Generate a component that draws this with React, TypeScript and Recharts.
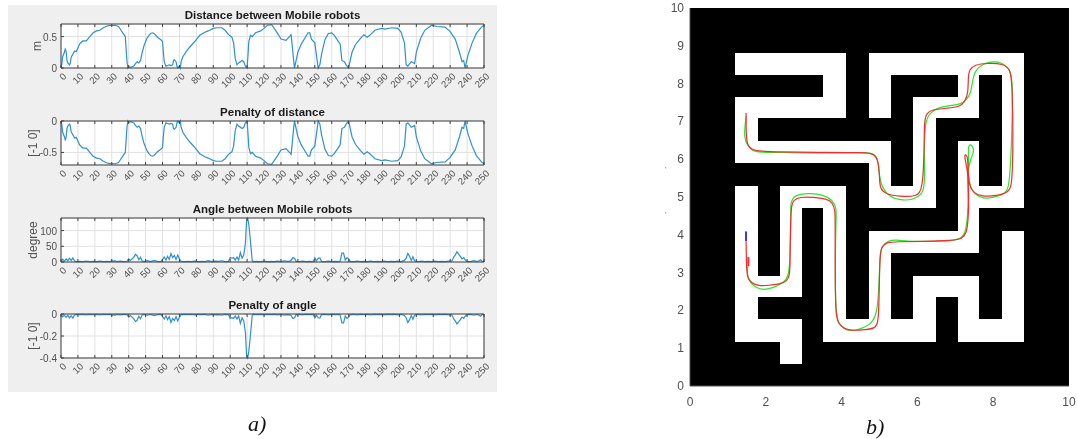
import { CartesianGrid, Label, Line, LineChart, ReferenceArea, XAxis, YAxis } from "recharts";

type Pt = [number, number];

const timeTicks = [0, 10, 20, 30, 40, 50, 60, 70, 80, 90, 100, 110, 120, 130, 140, 150, 160, 170, 180, 190, 200, 210, 220, 230, 240, 250];

const distance: Pt[] = [
  [0, 0], [0.5, 0.06], [1, 0.18], [2, 0.25], [2.5, 0.3], [3, 0.27], [3.5, 0.12], [4, 0.08], [5, 0.05], [5.5, 0.08], [6, 0.17], [7, 0.22], [8, 0.27], [9, 0.26], [10, 0.32], [11, 0.38], [12, 0.41], [13, 0.43], [15, 0.43], [17, 0.5], [19, 0.56], [21, 0.59], [23, 0.6], [25, 0.64], [28, 0.675], [32, 0.68], [34, 0.66], [35, 0.62], [36, 0.58], [37, 0.54], [38, 0.5], [38.5, 0.3], [39, 0.1], [39.5, 0], [40, 0.02], [41, 0.01], [42, 0.02], [43, 0.03], [44, 0.07], [45, 0.1], [46, 0.08], [47, 0.12], [48, 0.25], [49, 0.35], [50, 0.42], [51, 0.48], [52, 0.52], [53, 0.55], [54, 0.56], [55, 0.55], [56, 0.52], [57, 0.49], [58, 0.47], [59, 0.45], [60, 0.42], [60.5, 0.25], [61, 0.1], [62, 0.03], [63, 0.04], [64, 0.05], [65, 0.04], [66, 0.05], [66.5, 0.12], [67, 0.13], [68, 0.1], [68.5, 0.03], [69, 0], [70, 0.03], [70.5, 0], [71, 0.1], [72, 0.18], [74, 0.26], [76, 0.33], [78, 0.39], [80, 0.45], [82, 0.52], [85, 0.57], [87, 0.59], [90, 0.63], [92, 0.64], [95, 0.64], [97, 0.6], [99, 0.53], [101, 0.49], [102, 0.4], [103, 0.15], [104, 0.05], [105, 0.08], [106, 0.1], [107, 0.12], [108, 0.1], [109, 0.03], [110, 0], [110.5, 0.2], [111, 0.42], [112, 0.52], [113, 0.5], [115, 0.56], [118, 0.59], [120, 0.63], [122, 0.68], [124.5, 0.69], [126, 0.63], [128, 0.55], [130, 0.46], [133, 0.44], [135, 0.5], [136, 0.53], [136.5, 0.4], [137.5, 0.12], [138, 0], [140, 0.25], [142, 0.38], [144, 0.47], [146, 0.56], [147, 0.56], [148, 0.46], [150, 0.4], [151, 0.2], [152, 0], [153, 0.05], [154, 0.22], [156, 0.45], [158, 0.55], [160, 0.56], [161.5, 0.52], [163, 0.46], [165, 0.38], [166, 0.12], [167.5, 0.1], [168.5, 0.05], [170, 0], [172, 0.25], [174, 0.37], [177, 0.47], [179, 0.53], [181, 0.49], [182.5, 0.52], [185.5, 0.6], [189.5, 0.63], [191.5, 0.62], [195.5, 0.64], [199, 0.63], [201, 0.57], [203, 0.4], [204, 0.05], [205, 0.03], [207, 0.1], [209, 0.07], [210, 0.25], [212.5, 0.47], [215, 0.6], [219, 0.68], [222, 0.66], [227, 0.65], [230, 0.58], [233, 0.46], [235.5, 0.25], [237, 0.1], [238, 0.12], [238.8, 0], [240.5, 0.2], [243, 0.4], [245.5, 0.55], [248.5, 0.65], [250, 0.68],
];

const distancePenalty: Pt[] = [
  [0, 0], [0.5, -0.06], [1, -0.18], [2, -0.25], [2.5, -0.3], [3, -0.27], [3.5, -0.12], [4, -0.08], [5, -0.05], [5.5, -0.08], [6, -0.17], [7, -0.22], [8, -0.27], [9, -0.26], [10, -0.32], [11, -0.38], [12, -0.41], [13, -0.43], [15, -0.43], [17, -0.5], [19, -0.56], [21, -0.59], [23, -0.6], [25, -0.64], [28, -0.675], [32, -0.68], [34, -0.66], [35, -0.62], [36, -0.58], [37, -0.54], [38, -0.5], [38.5, -0.3], [39, -0.1], [39.5, 0], [40, -0.02], [41, -0.01], [42, -0.02], [43, -0.03], [44, -0.07], [45, -0.1], [46, -0.08], [47, -0.12], [48, -0.25], [49, -0.35], [50, -0.42], [51, -0.48], [52, -0.52], [53, -0.55], [54, -0.56], [55, -0.55], [56, -0.52], [57, -0.49], [58, -0.47], [59, -0.45], [60, -0.42], [60.5, -0.25], [61, -0.1], [62, -0.03], [63, -0.04], [64, -0.05], [65, -0.04], [66, -0.05], [66.5, -0.12], [67, -0.13], [68, -0.1], [68.5, -0.03], [69, 0], [70, -0.03], [70.5, 0], [71, -0.1], [72, -0.18], [74, -0.26], [76, -0.33], [78, -0.39], [80, -0.45], [82, -0.52], [85, -0.57], [87, -0.59], [90, -0.63], [92, -0.64], [95, -0.64], [97, -0.6], [99, -0.53], [101, -0.49], [102, -0.4], [103, -0.15], [104, -0.05], [105, -0.08], [106, -0.1], [107, -0.12], [108, -0.1], [109, -0.03], [110, 0], [110.5, -0.2], [111, -0.42], [112, -0.52], [113, -0.5], [115, -0.56], [118, -0.59], [120, -0.63], [122, -0.68], [124.5, -0.69], [126, -0.63], [128, -0.55], [130, -0.46], [133, -0.44], [135, -0.5], [136, -0.53], [136.5, -0.4], [137.5, -0.12], [138, 0], [140, -0.25], [142, -0.38], [144, -0.47], [146, -0.56], [147, -0.56], [148, -0.46], [150, -0.4], [151, -0.2], [152, 0], [153, -0.05], [154, -0.22], [156, -0.45], [158, -0.55], [160, -0.56], [161.5, -0.52], [163, -0.46], [165, -0.38], [166, -0.12], [167.5, -0.1], [168.5, -0.05], [170, 0], [172, -0.25], [174, -0.37], [177, -0.47], [179, -0.53], [181, -0.49], [182.5, -0.52], [185.5, -0.6], [189.5, -0.63], [191.5, -0.62], [195.5, -0.64], [199, -0.63], [201, -0.57], [203, -0.4], [204, -0.05], [205, -0.03], [207, -0.1], [209, -0.07], [210, -0.25], [212.5, -0.47], [215, -0.6], [219, -0.68], [222, -0.66], [227, -0.65], [230, -0.58], [233, -0.46], [235.5, -0.25], [237, -0.1], [238, -0.12], [238.8, 0], [240.5, -0.2], [243, -0.4], [245.5, -0.55], [248.5, -0.65], [250, -0.68],
];

const angle: Pt[] = [
  [0, 0], [1, 9], [2, 3], [3, 10], [4, 4], [5, 12], [6, 5], [7, 13], [8, 3], [9, 1], [11, 2], [13, 1], [15, 3], [17, 1], [19, 2], [21, 1], [23, 3], [25, 1], [27, 2], [29, 1], [30, 5], [31, 2], [32, 4], [33, 1], [35, 3], [37, 1], [39, 2], [40, 10], [41, 5], [42, 10], [43, 15], [44, 24], [45, 20], [46, 7], [47, 15], [48, 3], [49, 1], [51, 4], [53, 1], [55, 5], [57, 2], [59, 1], [60, 8], [61, 16], [62, 6], [63, 18], [64, 8], [65, 27], [66, 14], [67, 21], [68, 8], [69, 22], [70, 10], [71, 2], [73, 1], [75, 2], [77, 1], [79, 3], [81, 1], [83, 2], [85, 1], [87, 4], [89, 1], [91, 3], [93, 2], [95, 4], [97, 1], [99, 2], [100, 14], [101, 12], [102, 14], [103, 6], [104, 16], [105, 6], [106, 30], [107, 12], [108, 22], [109, 60], [109.7, 135], [110.3, 140], [111, 120], [112, 65], [113, 5], [113.5, 1], [116, 2], [118, 1], [120, 3], [122, 1], [124, 2], [126, 1], [128, 3], [130, 1], [132, 4], [134, 2], [135, 3], [136, 5], [137, 14], [138, 12], [139, 2], [141, 1], [143, 3], [145, 1], [147, 2], [149, 1], [150, 13], [151, 4], [152, 12], [153, 13], [154, 2], [156, 1], [158, 3], [160, 1], [162, 2], [164, 1], [165, 3], [166, 28], [167, 28], [168, 6], [169, 14], [170, 10], [171, 2], [173, 1], [175, 3], [177, 1], [179, 2], [181, 1], [183, 3], [185, 1], [187, 2], [189, 1], [191, 3], [193, 1], [195, 2], [197, 1], [199, 3], [201, 1], [203, 5], [204, 12], [205, 27], [206, 18], [207, 5], [208, 17], [209, 4], [211, 1], [213, 3], [215, 1], [217, 2], [219, 1], [221, 3], [223, 1], [225, 2], [227, 1], [229, 3], [231, 3], [232, 15], [233, 22], [234, 33], [235, 25], [236, 18], [237, 10], [238, 14], [239, 6], [240, 2], [242, 1], [244, 4], [246, 1], [248, 7], [249, 1], [250, 2],
];

const anglePenalty: Pt[] = [
  [0, 0], [1, -0.026], [2, -0.01], [3, -0.03], [4, -0.012], [5, -0.035], [6, -0.015], [7, -0.037], [8, -0.008], [9, -0.003], [11, -0.006], [13, -0.003], [15, -0.008], [17, -0.003], [19, -0.006], [21, -0.003], [23, -0.008], [25, -0.003], [27, -0.006], [29, -0.003], [30, -0.014], [31, -0.006], [32, -0.012], [33, -0.003], [35, -0.008], [37, -0.003], [39, -0.006], [40, -0.028], [41, -0.014], [42, -0.028], [43, -0.043], [44, -0.068], [45, -0.057], [46, -0.02], [47, -0.043], [48, -0.008], [49, -0.003], [51, -0.011], [53, -0.003], [55, -0.014], [57, -0.006], [59, -0.003], [60, -0.023], [61, -0.046], [62, -0.017], [63, -0.051], [64, -0.023], [65, -0.077], [66, -0.04], [67, -0.06], [68, -0.023], [69, -0.063], [70, -0.028], [71, -0.006], [73, -0.003], [75, -0.006], [77, -0.003], [79, -0.008], [81, -0.003], [83, -0.006], [85, -0.003], [87, -0.011], [89, -0.003], [91, -0.008], [93, -0.006], [95, -0.011], [97, -0.003], [99, -0.006], [100, -0.04], [101, -0.034], [102, -0.04], [103, -0.017], [104, -0.046], [105, -0.017], [106, -0.086], [107, -0.034], [108, -0.063], [109, -0.17], [109.7, -0.385], [110.3, -0.4], [111, -0.34], [112, -0.186], [113, -0.014], [113.5, -0.003], [116, -0.006], [118, -0.003], [120, -0.008], [122, -0.003], [124, -0.006], [126, -0.003], [128, -0.008], [130, -0.003], [132, -0.011], [134, -0.006], [135, -0.008], [136, -0.014], [137, -0.04], [138, -0.034], [139, -0.006], [141, -0.003], [143, -0.008], [145, -0.003], [147, -0.006], [149, -0.003], [150, -0.037], [151, -0.011], [152, -0.034], [153, -0.037], [154, -0.006], [156, -0.003], [158, -0.008], [160, -0.003], [162, -0.006], [164, -0.003], [165, -0.008], [166, -0.08], [167, -0.08], [168, -0.017], [169, -0.04], [170, -0.028], [171, -0.006], [173, -0.003], [175, -0.008], [177, -0.003], [179, -0.006], [181, -0.003], [183, -0.008], [185, -0.003], [187, -0.006], [189, -0.003], [191, -0.008], [193, -0.003], [195, -0.006], [197, -0.003], [199, -0.008], [201, -0.003], [203, -0.014], [204, -0.034], [205, -0.077], [206, -0.051], [207, -0.014], [208, -0.048], [209, -0.011], [211, -0.003], [213, -0.008], [215, -0.003], [217, -0.006], [219, -0.003], [221, -0.008], [223, -0.003], [225, -0.006], [227, -0.003], [229, -0.008], [231, -0.008], [232, -0.043], [233, -0.063], [234, -0.09], [235, -0.071], [236, -0.051], [237, -0.028], [238, -0.04], [239, -0.017], [240, -0.006], [242, -0.003], [244, -0.011], [246, -0.003], [248, -0.02], [249, -0.003], [250, -0.006],
];

const mazeXs = [1.2, 1.79, 2.38, 2.95, 3.52, 4.11, 4.71, 5.3, 5.89, 6.49, 7.06, 7.63, 8.22, 8.81];
const mazeYs = [8.81, 8.23, 7.64, 7.09, 6.48, 5.89, 5.29, 4.7, 4.1, 3.51, 2.9, 2.35, 1.77, 1.17, 0.58];
const corridors = [
  [0, 5, 0, 1], [4, 5, 1, 2], [0, 5, 2, 3], [0, 1, 3, 5], [0, 7, 4, 5], [6, 7, 5, 7], [6, 9, 6, 7], [8, 9, 2, 7],
  [8, 11, 2, 3], [10, 11, 0, 3], [6, 13, 0, 1], [6, 7, 0, 3], [12, 13, 0, 7], [10, 13, 6, 7], [10, 11, 4, 9], [6, 11, 8, 9],
  [0, 1, 6, 13], [2, 5, 6, 7], [2, 3, 6, 11], [0, 3, 10, 11], [4, 5, 6, 13], [0, 3, 12, 13], [2, 3, 13, 14], [4, 9, 12, 13],
  [6, 7, 8, 13], [8, 9, 10, 13], [8, 11, 10, 11], [10, 11, 10, 13], [10, 13, 12, 13], [12, 13, 8, 13],
];
const mazeTicksX = [0, 2, 4, 6, 8, 10];
const mazeTicksY = [0, 1, 2, 3, 4, 5, 6, 7, 8, 9, 10];

const redPath: Pt[] = [
  [1.48, 3.82], [1.486, 3.42], [1.495, 3.07], [1.52, 2.85], [1.63, 2.72], [1.8, 2.65], [2.07, 2.66], [2.37, 2.7], [2.55, 2.76], [2.64, 2.94], [2.64, 3.42], [2.65, 4.04], [2.66, 4.48], [2.68, 4.79], [2.73, 4.92], [2.9, 5], [3.25, 5], [3.61, 4.95], [3.76, 4.86], [3.83, 4.62], [3.83, 4.48], [3.83, 3.16], [3.84, 1.88], [3.91, 1.66], [4.05, 1.53], [4.22, 1.46], [4.66, 1.49], [4.88, 1.53], [4.97, 1.66], [4.99, 2.37], [5.01, 3.51], [5.06, 3.69], [5.19, 3.8], [5.45, 3.82], [6.16, 3.82], [6.95, 3.85], [7.17, 3.89], [7.3, 4.04], [7.34, 4.4], [7.36, 4.93], [7.34, 5.37], [7.32, 5.72], [7.25, 6.03], [7.25, 6.11], [7.28, 6.13], [7.33, 6.05], [7.34, 5.63], [7.36, 5.32], [7.48, 5.1], [7.7, 5.01], [8.09, 5.03], [8.4, 5.12], [8.53, 5.32], [8.51, 8.1], [8.44, 8.37], [8.27, 8.53], [7.83, 8.54], [7.52, 8.5], [7.37, 8.37], [7.34, 8.19], [7.34, 7.75], [7.26, 7.53], [7.12, 7.38], [6.77, 7.35], [6.38, 7.31], [6.25, 7.22], [6.18, 7.05], [6.18, 6.25], [6.14, 5.19], [5.98, 5.01], [5.54, 5.01], [5.15, 5.08], [5.01, 5.23], [5, 5.54], [4.98, 5.85], [4.93, 6.03], [4.84, 6.13], [4.71, 6.18], [3.25, 6.18], [2.37, 6.19], [1.85, 6.21], [1.64, 6.25], [1.54, 6.34], [1.5, 6.47], [1.48, 6.69], [1.48, 7.22],
];

const greenPath: Pt[] = [
  [1.52, 3.16], [1.51, 2.9], [1.6, 2.72], [1.76, 2.59], [1.93, 2.54], [2.2, 2.6], [2.46, 2.72], [2.61, 2.9], [2.64, 3.42], [2.66, 4.39], [2.66, 4.75], [2.66, 4.84], [2.73, 5.01], [2.9, 5.08], [3.17, 5.1], [3.52, 5.06], [3.76, 4.92], [3.87, 4.7], [3.85, 4.39], [3.83, 3.16], [3.84, 1.92], [3.93, 1.64], [4.06, 1.51], [4.22, 1.45], [4.49, 1.5], [4.75, 1.62], [4.91, 1.84], [4.98, 2.37], [5.01, 3.51], [5.06, 3.69], [5.23, 3.85], [5.45, 3.87], [5.72, 3.83], [6.16, 3.82], [6.95, 3.84], [7.17, 3.91], [7.28, 4.09], [7.33, 4.57], [7.34, 4.93], [7.33, 5.19], [7.33, 5.63], [7.39, 5.98], [7.5, 6.2], [7.46, 6.34], [7.39, 6.4], [7.34, 6.34], [7.35, 5.98], [7.35, 5.54], [7.39, 5.28], [7.52, 5.06], [7.74, 4.95], [8, 4.99], [8.35, 5.08], [8.44, 5.37], [8.51, 7.13], [8.51, 8.1], [8.43, 8.41], [8.22, 8.56], [8, 8.59], [7.74, 8.53], [7.52, 8.35], [7.46, 8.1], [7.41, 7.75], [7.3, 7.57], [7.12, 7.44], [6.77, 7.41], [6.51, 7.35], [6.33, 7.22], [6.2, 7], [6.18, 6.25], [6.2, 5.28], [6.11, 5.06], [5.89, 4.93], [5.63, 4.91], [5.28, 4.97], [5.01, 5.32], [4.97, 5.9], [4.93, 6.07], [4.79, 6.16], [4.62, 6.18], [3.25, 6.16], [2.37, 6.18], [1.85, 6.18], [1.64, 6.22], [1.5, 6.38], [1.43, 6.6], [1.45, 6.87], [1.48, 7.13],
];

const bluePath: Pt[] = [[1.478, 4.09], [1.478, 3.83]];
const redStub: Pt[] = [[1.54, 3.41], [1.54, 3.17]];

const toRows = (pts: Pt[]) => pts.map(([x, y]) => ({ x, y }));

const FONT = "'Liberation Sans', Arial, sans-serif";
const AXIS = "#404040";
const LABEL = "#505050";

const BottomTick = ({ x, y, payload }: any) => (
  <g>
    <line x1={x} y1={y} x2={x} y2={y - 3} stroke={AXIS} />
    <text
      transform={`translate(${x + 6},${y + 9}) rotate(-45)`}
      textAnchor="end"
      fontSize={9.5}
      fontFamily={FONT}
      fill={LABEL}
    >
      {payload.value}
    </text>
  </g>
);

const TopTick = ({ x, y }: any) => <line x1={x} y1={y} x2={x} y2={y + 3} stroke={AXIS} />;
const RightTick = ({ x, y }: any) => <line x1={x} y1={y} x2={x - 3} y2={y} stroke={AXIS} />;
const LeftTick = ({ x, y, payload }: any) => (
  <g>
    <line x1={x} y1={y} x2={x + 3} y2={y} stroke={AXIS} />
    <text x={x - 4} y={y + 4} textAnchor="end" fontSize={10} fontFamily={FONT} fill={LABEL}>
      {payload.value}
    </text>
  </g>
);

function TimePlot({ top, title, unit, unitDx, data, domain, ticks }: any) {
  const plotH = 44;
  return (
    <div style={{ position: "absolute", left: 8, top: top - 20 }}>
      <LineChart
        width={489}
        height={plotH + 20 + 32}
        data={toRows(data)}
        margin={{ top: 19, right: 12, bottom: 0, left: 0 }}
      >
        <CartesianGrid stroke="#e1e1e1" fill="#fff" fillOpacity={1} />
        <Line dataKey="y" type="linear" stroke="#2f90d2" strokeWidth={1.2} dot={false} isAnimationActive={false} />
        <XAxis
          dataKey="x"
          type="number"
          domain={[0, 250]}
          ticks={timeTicks}
          interval={0}
          height={32}
          tickSize={0}
          tickMargin={0}
          stroke={AXIS}
          tick={<BottomTick />}
        />
        <XAxis
          xAxisId="top"
          orientation="top"
          dataKey="x"
          type="number"
          domain={[0, 250]}
          ticks={timeTicks}
          interval={0}
          height={1}
          tickSize={0}
          tickMargin={0}
          stroke={AXIS}
          tick={<TopTick />}
        >
          <Label value={title} position="top" offset={4} fontSize={11.5} fontWeight="bold" fontFamily={FONT} fill="#1a1a1a" />
        </XAxis>
        <YAxis
          type="number"
          domain={domain}
          ticks={ticks}
          interval={0}
          width={53}
          tickSize={0}
          tickMargin={0}
          stroke={AXIS}
          tick={<LeftTick />}
        >
          <Label value={unit} angle={-90} position="center" dx={unitDx} fontSize={12} fontFamily={FONT} fill={LABEL} />
        </YAxis>
        <YAxis
          yAxisId="right"
          orientation="right"
          type="number"
          domain={domain}
          ticks={ticks}
          interval={0}
          width={1}
          tickSize={0}
          tickMargin={0}
          stroke={AXIS}
          tick={<RightTick />}
        />
      </LineChart>
    </div>
  );
}

const MazeBottomTick = ({ x, y, payload }: any) => (
  <text x={x} y={y + 20} textAnchor="middle" fontSize={12} fontFamily={FONT} fill={LABEL}>
    {payload.value}
  </text>
);
const MazeLeftTick = ({ x, y, payload }: any) => (
  <text x={x - 6} y={y + 4} textAnchor="end" fontSize={12} fontFamily={FONT} fill={LABEL}>
    {payload.value}
  </text>
);

function MazePlot() {
  return (
    <div style={{ position: "absolute", left: 650, top: 0 }}>
      <LineChart width={427} height={410} margin={{ top: 8, right: 8, bottom: 0, left: 0 }}>
        <CartesianGrid horizontal={false} vertical={false} fill="#000" fillOpacity={1} />
        <XAxis
          dataKey="x"
          type="number"
          domain={[0, 10]}
          ticks={mazeTicksX}
          interval={0}
          height={24}
          tickSize={0}
          tickMargin={0}
          stroke="#555"
          tick={<MazeBottomTick />}
        />
        <YAxis
          dataKey="y"
          type="number"
          domain={[0, 10]}
          ticks={mazeTicksY}
          interval={0}
          width={40}
          tickSize={0}
          tickMargin={0}
          stroke="#555"
          tick={<MazeLeftTick />}
        />
        {corridors.map(([a, b, c, d], i) => (
          <ReferenceArea
            key={i}
            x1={mazeXs[a]}
            x2={mazeXs[b]}
            y1={mazeYs[d]}
            y2={mazeYs[c]}
            fill="#fff"
            fillOpacity={1}
            stroke="none"
            shapeRendering="crispEdges"
          />
        ))}
        <Line data={toRows(greenPath)} dataKey="y" type="basis" stroke="#2be62b" strokeWidth={1.2} dot={false} isAnimationActive={false} />
        <Line data={toRows(redPath)} dataKey="y" type="basis" stroke="#f52a2a" strokeWidth={1.2} dot={false} isAnimationActive={false} />
        <Line data={toRows(bluePath)} dataKey="y" type="linear" stroke="#3a3af5" strokeWidth={2} dot={false} isAnimationActive={false} />
        <Line data={toRows(redStub)} dataKey="y" type="linear" stroke="#f52a2a" strokeWidth={2} dot={false} isAnimationActive={false} />
      </LineChart>
    </div>
  );
}

const captionStyle: any = {
  position: "absolute",
  fontFamily: "'Liberation Serif', serif",
  fontStyle: "italic",
  fontSize: 22,
  lineHeight: "24px",
  color: "#111",
};

const strayMark: any = { position: "absolute", left: 665, fontSize: 8, lineHeight: "8px", color: "#777", fontFamily: FONT };

export default function App() {
  return (
    <div
      style={{
        position: "absolute",
        left: 0,
        top: 0,
        width: 1077,
        height: 439,
        background: "#fff",
        overflow: "hidden",
        filter: "blur(0.35px)",
      }}
    >
      <div style={{ position: "absolute", left: 8, top: 5, width: 489, height: 387, background: "#efefef" }} />
      <TimePlot top={24} title="Distance between Mobile robots" unit="m" unitDx={2.5} data={distance} domain={[0, 0.7]} ticks={[0, 0.5]} />
      <TimePlot top={121} title="Penalty of distance" unit="[-1 0]" unitDx={-1.5} data={distancePenalty} domain={[-0.7, 0]} ticks={[-0.5, 0]} />
      <TimePlot top={218} title="Angle between Mobile robots" unit="degree" unitDx={-1.5} data={angle} domain={[0, 140]} ticks={[0, 50, 100]} />
      <TimePlot top={314} title="Penalty of angle" unit="[-1 0]" unitDx={-1.5} data={anglePenalty} domain={[-0.4, 0]} ticks={[-0.4, -0.2, 0]} />
      <MazePlot />
      <div style={{ ...strayMark, top: 166 }}>'</div>
      <div style={{ ...strayMark, top: 211 }}>'</div>
      <div style={{ ...captionStyle, left: 248, top: 412 }}>a)</div>
      <div style={{ ...captionStyle, left: 866, top: 415 }}>b)</div>
    </div>
  );
}
